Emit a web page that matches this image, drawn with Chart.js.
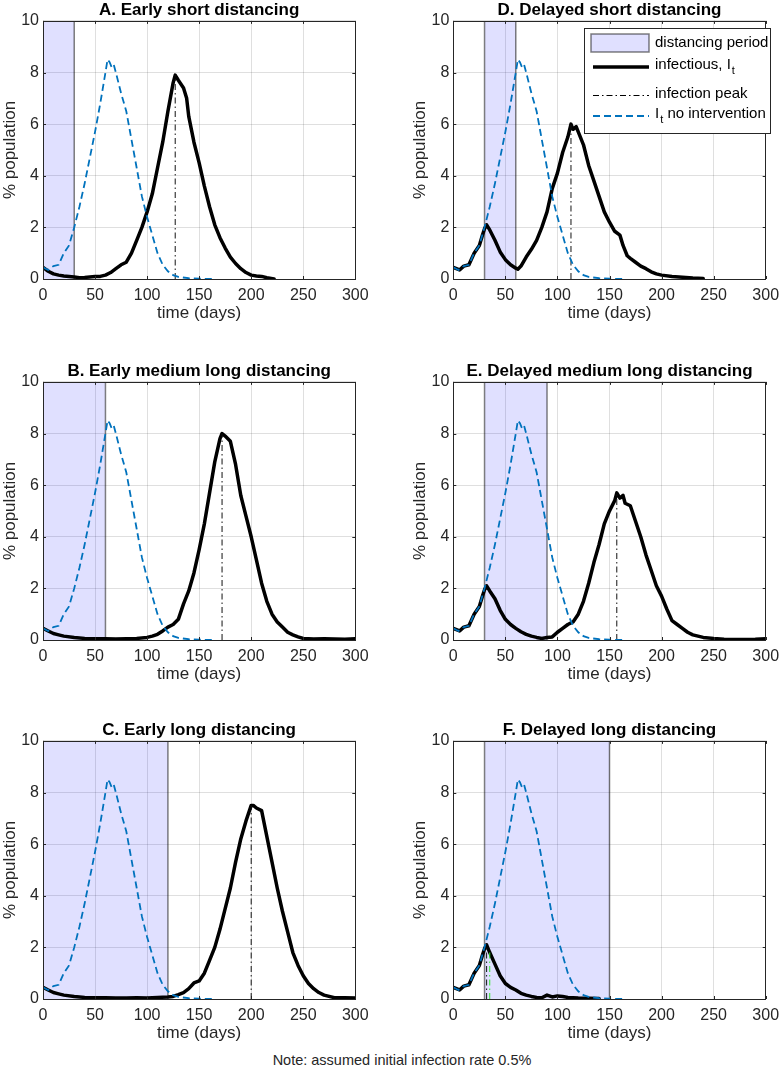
<!DOCTYPE html>
<html>
<head>
<meta charset="utf-8">
<script src="https://cdn.jsdelivr.net/npm/chart.js@4.4.1/dist/chart.umd.min.js"></script>
<style>
  body { margin: 0; background: #fff; width: 781px; height: 1071px; position: relative; overflow: hidden; }
  canvas { position: absolute; }
  #note { position: absolute; left: 252px; width: 300px; top: 1051px; text-align: center; white-space: nowrap;
          font: 14.5px "Liberation Sans", Arial, sans-serif; color: #262626; line-height: 18px; }
</style>
</head>
<body>
<canvas id="pA" width="390" height="329" style="left:0px;top:0px"></canvas>
<canvas id="pB" width="390" height="329" style="left:0px;top:361px"></canvas>
<canvas id="pC" width="390" height="329" style="left:0px;top:720px"></canvas>
<canvas id="pD" width="391" height="329" style="left:390px;top:0px"></canvas>
<canvas id="pE" width="391" height="329" style="left:390px;top:361px"></canvas>
<canvas id="pF" width="391" height="329" style="left:390px;top:720px"></canvas>
<div id="note">Note: assumed initial infection rate 0.5%</div>
<script>
// no intervention curve (same in every panel)
const noIntDay = [0,5,10,15,20,25,30,35,40,45,50,55,60,62,64,66,68,70,75,80,85,90,95,100,105,110,115,120,125,130,140,150,165];
const noIntPct = [0.45,0.35,0.5,0.55,1.0,1.3,2.0,2.8,3.7,4.7,5.7,6.8,8.0,8.5,8.4,8.2,8.3,8.0,7.2,6.5,5.4,4.3,3.2,2.4,1.7,1.0,0.55,0.3,0.15,0.08,0.03,0.01,0.0];

// infectious I_t per scenario
const dayA = [0,5,10,15,20,25,30,35,40,45,50,55,60,65,70,75,80,85,90,95,100,105,110,115,120,125,127,130,135,138,140,145,150,155,160,165,170,175,180,185,190,195,200,205,210,215,222];
const pctA = [0.45,0.3,0.2,0.15,0.12,0.1,0.08,0.05,0.06,0.08,0.1,0.1,0.15,0.25,0.4,0.55,0.65,1.0,1.5,2.0,2.6,3.3,4.3,5.3,6.5,7.6,7.9,7.7,7.4,7.0,6.3,5.3,4.5,3.6,2.8,2.1,1.6,1.2,0.85,0.6,0.4,0.25,0.15,0.12,0.1,0.05,0.0];

const dayB = [0,5,10,15,20,30,40,50,60,70,80,90,100,105,110,115,120,125,130,135,140,145,150,155,160,165,170,172,175,180,185,190,195,200,205,210,215,220,225,230,235,240,245,250,260,270,280,290,300];
const pctB = [0.45,0.35,0.25,0.2,0.15,0.1,0.06,0.05,0.05,0.04,0.05,0.06,0.1,0.15,0.22,0.35,0.5,0.6,0.8,1.4,1.9,2.6,3.5,4.5,5.7,6.9,7.8,8.0,7.9,7.7,6.8,5.6,4.8,4.0,3.1,2.2,1.5,1.0,0.7,0.5,0.3,0.2,0.12,0.06,0.04,0.05,0.04,0.03,0.05];

const dayC = [0,5,10,15,20,30,40,50,60,70,80,90,100,110,120,125,130,135,140,145,150,155,160,165,170,175,180,185,190,195,200,202,205,210,215,220,225,230,235,240,245,250,255,260,265,270,280,290,300];
const pctC = [0.45,0.35,0.25,0.2,0.15,0.1,0.06,0.05,0.05,0.04,0.04,0.05,0.04,0.06,0.08,0.1,0.17,0.25,0.4,0.62,0.7,1.0,1.5,2.0,2.7,3.5,4.3,5.3,6.2,6.9,7.5,7.5,7.4,7.3,6.3,5.3,4.3,3.4,2.6,1.8,1.3,0.9,0.6,0.4,0.25,0.15,0.05,0.05,0.04];

const dayD = [0,3,6,10,15,20,25,28,30,32,35,40,45,50,55,60,62,65,70,75,80,85,90,95,100,105,110,113,115,118,120,125,130,135,140,145,150,155,160,163,167,170,175,180,185,190,195,200,210,220,230,240];
const pctD = [0.45,0.4,0.35,0.5,0.55,1.0,1.3,1.7,1.95,2.1,1.9,1.5,1.05,0.75,0.55,0.42,0.38,0.5,0.85,1.15,1.5,2.0,2.6,3.5,4.1,4.9,5.5,6.0,5.8,5.9,5.7,5.2,4.4,3.8,3.2,2.6,2.2,1.85,1.7,1.3,0.9,0.8,0.65,0.5,0.4,0.28,0.2,0.15,0.1,0.07,0.04,0.02];

const dayE = [0,3,6,10,15,20,25,28,30,32,35,40,45,50,55,60,65,70,75,80,85,90,95,100,105,110,115,120,125,130,135,140,145,150,155,157,160,163,165,170,175,180,185,190,195,200,205,210,215,220,225,230,240,250,260,270,280,290,300];
const pctE = [0.45,0.4,0.35,0.5,0.55,1.0,1.3,1.7,1.95,2.1,1.9,1.6,1.15,0.8,0.6,0.45,0.32,0.22,0.15,0.1,0.06,0.1,0.12,0.3,0.45,0.6,0.7,1.0,1.5,2.2,3.0,3.7,4.5,5.0,5.4,5.7,5.5,5.6,5.3,5.2,4.6,4.0,3.3,2.7,2.1,1.7,1.2,0.75,0.6,0.45,0.3,0.2,0.1,0.06,0.03,0.02,0.02,0.03,0.05];

const dayF = [0,3,6,10,15,20,25,28,30,32,35,40,45,50,55,60,65,70,75,80,85,90,95,100,105,110,120,130,140];
const pctF = [0.45,0.4,0.35,0.5,0.55,1.0,1.3,1.7,1.95,2.1,1.8,1.35,0.9,0.6,0.45,0.35,0.22,0.15,0.1,0.06,0.05,0.15,0.08,0.12,0.1,0.06,0.04,0.03,0.02];

const panelTitles = ['A. Early short distancing','B. Early medium long distancing','C. Early long distancing',
                     'D. Delayed short distancing','E. Delayed medium long distancing','F. Delayed long distancing'];
const distStart = [0,0,0,30,30,30];
const distEnd   = [30,60,120,60,90,150];
const peakDay = [127,172,200,113,157,32];
const peakPct = [7.9,8.0,7.5,6.0,5.65,2.05];
const altPeakDay = [35];   // green dash-dot in F
const altPeakPct = [1.9];

const xTicks = [0,50,100,150,200,250,300];
const yTicks = [0,2,4,6,8,10];

const FONT = '"Liberation Sans", Arial, sans-serif';
const pts = (xs, ys) => xs.map((x, i) => ({x: x, y: ys[i]}));

// axes box with inward ticks (matlab look)
const frame = {
  id: 'frame',
  afterDraw(chart) {
    const {ctx, chartArea: a, scales} = chart;
    ctx.save();
    ctx.strokeStyle = '#262626';
    ctx.lineWidth = 1;
    ctx.strokeRect(Math.round(a.left) + 0.5, Math.round(a.top) + 0.5, Math.round(a.right - a.left), Math.round(a.bottom - a.top));
    ctx.beginPath();
    xTicks.forEach(v => {
      const px = Math.round(scales.x.getPixelForValue(v)) + 0.5;
      ctx.moveTo(px, a.bottom); ctx.lineTo(px, a.bottom - 3);
      ctx.moveTo(px, a.top); ctx.lineTo(px, a.top + 3);
    });
    yTicks.forEach(v => {
      const py = Math.round(scales.y.getPixelForValue(v)) + 0.5;
      ctx.moveTo(a.left, py); ctx.lineTo(a.left + 3, py);
      ctx.moveTo(a.right, py); ctx.lineTo(a.right - 3, py);
    });
    ctx.stroke();
    ctx.restore();
  }
};

// legend drawn in panel D
const legendBox = {
  id: 'legendBox',
  afterDraw(chart) {
    const ctx = chart.ctx;
    ctx.save();
    ctx.fillStyle = '#fff';
    ctx.strokeStyle = '#262626';
    ctx.lineWidth = 1;
    ctx.fillRect(194.5, 28.5, 186, 105);
    ctx.strokeRect(194.5, 28.5, 186, 105);
    // patch
    ctx.fillStyle = 'rgba(0,0,255,0.12)';
    ctx.fillRect(201, 34, 58, 18);
    ctx.strokeStyle = 'rgba(0,0,0,0.5)';
    ctx.lineWidth = 1.5;
    ctx.strokeRect(201, 34, 58, 18);
    // black line
    ctx.strokeStyle = '#000'; ctx.lineWidth = 3.5;
    ctx.beginPath(); ctx.moveTo(203, 67); ctx.lineTo(259, 67); ctx.stroke();
    // peak
    ctx.lineWidth = 1; ctx.setLineDash([6,3,1.5,3]);
    ctx.beginPath(); ctx.moveTo(203, 95.5); ctx.lineTo(259, 95.5); ctx.stroke();
    // blue dashed
    ctx.strokeStyle = '#0072BD'; ctx.lineWidth = 1.8; ctx.setLineDash([7,4]);
    ctx.beginPath(); ctx.moveTo(203, 116); ctx.lineTo(259, 116); ctx.stroke();
    ctx.setLineDash([]);
    // text
    ctx.fillStyle = '#000';
    ctx.textBaseline = 'middle';
    ctx.font = '15px ' + FONT;
    ctx.fillText('distancing period', 265, 43);
    ctx.fillText('infectious, I', 265, 65);
    let w = ctx.measureText('infectious, I').width;
    ctx.fillText('infection peak', 265, 94);
    ctx.fillText('I', 265, 114);
    let w2 = ctx.measureText('I').width;
    ctx.font = '11px ' + FONT;
    ctx.fillText('t', 265 + w + 1, 71);
    ctx.fillText('t', 265 + w2 + 1, 120);
    let wt = ctx.measureText('t').width;
    ctx.font = '15px ' + FONT;
    ctx.fillText(' no intervention', 265 + w2 + wt + 1, 114);
    ctx.restore();
  }
};

function makePanel(id, k, days, pct, right) {
  const datasets = [
    { data: pts(noIntDay, noIntPct), borderColor: '#0072BD', borderWidth: 1.8, borderDash: [7,4], pointRadius: 0, fill: false },
    { data: [{x: peakDay[k], y: 0}, {x: peakDay[k], y: peakPct[k]}], borderColor: '#111', borderWidth: 1, borderDash: [6,3,1.5,3], pointRadius: 0, fill: false }
  ];
  if (k === 5) {
    datasets.push({ data: [{x: altPeakDay[0], y: 0}, {x: altPeakDay[0], y: altPeakPct[0]}], borderColor: '#2ee62e', borderWidth: 1, borderDash: [6,3,1.5,3], pointRadius: 0, fill: false });
  }
  datasets.push(
    { data: pts(days, pct), borderColor: '#000', borderWidth: 3.5, borderJoinStyle: 'round', borderCapStyle: 'round', pointRadius: 0, fill: false },
    { data: [{x: distStart[k], y: 0}, {x: distStart[k], y: 10}, {x: distEnd[k], y: 10}, {x: distEnd[k], y: 0}],
      borderColor: 'rgba(0,0,0,0.5)', borderWidth: 1.5, backgroundColor: 'rgba(0,0,255,0.12)', pointRadius: 0, fill: 'origin' }
  );

  new Chart(document.getElementById(id), {
    type: 'line',
    data: { datasets: datasets },
    options: {
      animation: false,
      responsive: false,
      events: [],
      layout: { padding: { left: 0, top: 0, right: right ? 15.3 : 34.7, bottom: 0 } },
      plugins: {
        legend: { display: false },
        tooltip: { enabled: false },
        title: { display: true, text: panelTitles[k], fullSize: false, color: '#000',
                 font: { family: FONT, size: 17, weight: 'bold', lineHeight: 1.2 }, padding: { top: 0, bottom: 0.5 } }
      },
      scales: {
        x: {
          type: 'linear', min: 0, max: 300,
          afterBuildTicks: s => { s.ticks = xTicks.map(v => ({value: v})); },
          afterFit: s => { s.height = 50; s.paddingLeft = 0; s.paddingRight = 0; },
          grid: { color: 'rgba(38,38,38,0.15)', drawTicks: false },
          border: { display: false },
          ticks: { color: '#262626', font: { family: FONT, size: 16 }, padding: 7, maxRotation: 0, autoSkip: false },
          title: { display: true, text: 'time (days)', color: '#262626', font: { family: FONT, size: 17 }, padding: { top: 0, bottom: 5 } }
        },
        y: {
          min: 0, max: 10,
          afterBuildTicks: s => { s.ticks = yTicks.map(v => ({value: v})); },
          afterFit: s => { s.width = right ? 63.3 : 43; s.paddingTop = 0; s.paddingBottom = 0; },
          grid: { color: 'rgba(38,38,38,0.15)', drawTicks: false },
          border: { display: false },
          ticks: { color: '#262626', font: { family: FONT, size: 16 }, padding: 4 },
          title: { display: true, text: '% population', color: '#262626', font: { family: FONT, size: 17 }, padding: { top: right ? 20 : 0, bottom: 0 } }
        }
      }
    },
    plugins: k === 3 ? [frame, legendBox] : [frame]
  });
}

makePanel('pA', 0, dayA, pctA, false);
makePanel('pB', 1, dayB, pctB, false);
makePanel('pC', 2, dayC, pctC, false);
makePanel('pD', 3, dayD, pctD, true);
makePanel('pE', 4, dayE, pctE, true);
makePanel('pF', 5, dayF, pctF, true);
</script>
</body>
</html>
